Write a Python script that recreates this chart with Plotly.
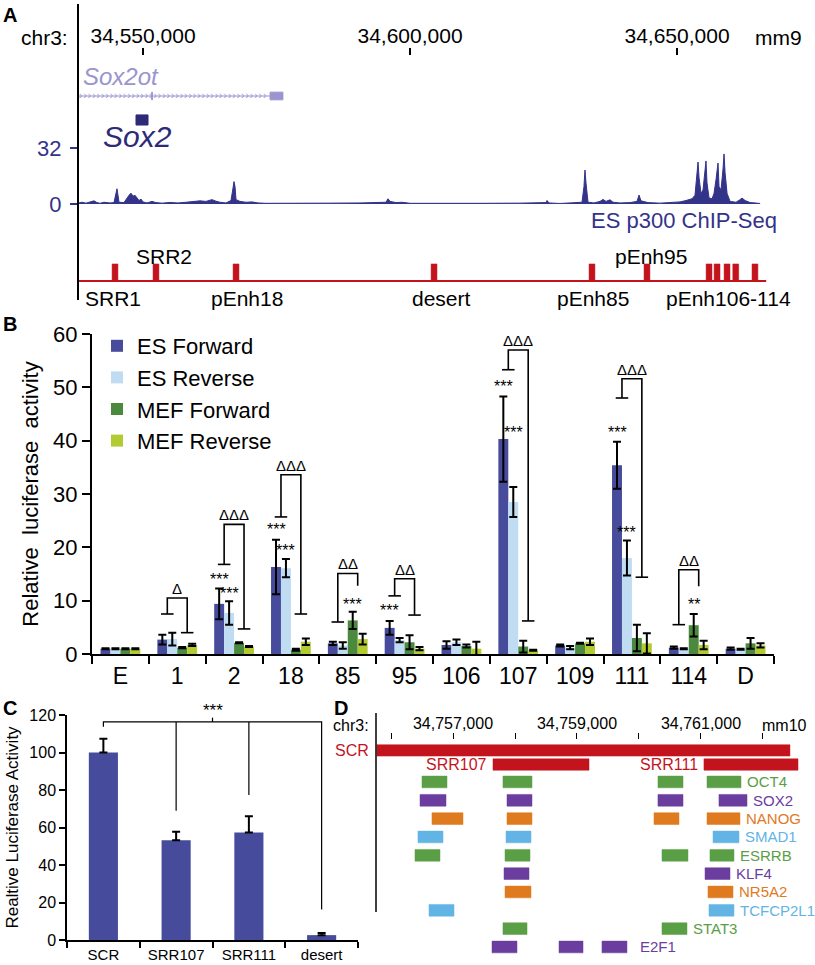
import plotly.graph_objects as go

W, H = 815, 965
FONT = "Liberation Sans, Arial, sans-serif"


def px_x(px):
    return px / W


def px_y(py):
    return 1 - py / H


# ======================= Panel A data =======================
A_TICK_POS = [34550000, 34600000, 34650000]
A_VIEW = [34537828, 34673034]
SOX2OT_LINE = [34537828, 34573800]
SOX2OT_EXONS = [[34551620, 34551760], [34573800, 34576200]]
SOX2_EXON = [34548690, 34550940]

SIGNAL_KB = [34537.83, 34538.58, 34539.33, 34540.07, 34540.82, 34541.38, 34541.95, 34542.70,
             34543.82, 34544.57, 34544.94, 34545.13, 34545.32, 34545.51, 34546.44, 34547.00,
             34547.38, 34547.75, 34548.13, 34548.50, 34548.88, 34549.25, 34549.63, 34550.00,
             34550.75, 34551.69, 34552.43, 34553.56, 34555.06, 34556.55, 34558.05, 34559.55,
             34560.67, 34561.80, 34562.92, 34563.67, 34564.42, 34565.54, 34566.48, 34566.85,
             34567.04, 34567.23, 34567.42, 34568.16, 34569.29, 34570.41, 34571.54, 34573.03,
             34579.40, 34585.02, 34590.64, 34594.38, 34595.51, 34595.88, 34596.26, 34597.38,
             34598.50, 34600.00, 34605.62, 34613.11, 34620.60, 34625.47, 34625.66, 34626.03,
             34628.09, 34630.90, 34632.21, 34632.58, 34632.77, 34632.96, 34633.34, 34634.46,
             34635.58, 34636.15, 34636.71, 34637.46, 34638.02, 34639.33, 34641.20, 34642.51,
             34642.89, 34643.26, 34644.57, 34646.82, 34649.07, 34650.57, 34651.69, 34652.81,
             34653.37, 34653.75, 34653.94, 34654.13, 34654.50, 34654.87, 34655.25, 34655.43,
             34655.62, 34656.00, 34656.56, 34656.93, 34657.31, 34657.68, 34657.87, 34658.24,
             34658.62, 34658.81, 34659.00, 34659.38, 34659.94, 34661.06, 34661.81, 34662.18,
             34662.75, 34663.68, 34664.62, 34665.56]
SIGNAL_VAL = [0.5, 1.0, 0.5, 1.2, 1.8, 0.8, 0.4, 1.0,
              0.6, 0.8, 6.0, 8.7, 5.0, 1.0, 0.8, 3.5,
              5.0, 6.2, 4.5, 5.0, 3.2, 2.0, 2.8, 1.2,
              0.6, 1.5, 0.8, 0.5, 0.9, 0.6, 1.0, 1.3,
              1.8, 1.5, 2.5, 1.6, 1.0, 0.6, 2.0, 9.0,
              12.8, 10.0, 2.5, 1.5, 1.0, 1.2, 0.6, 0.4,
              0.3, 0.5, 0.6, 0.9, 1.0, 3.0, 1.5, 0.8,
              1.0, 0.4, 0.3, 0.4, 0.5, 0.8, 2.0, 0.6,
              0.3, 0.5, 1.0, 10.0, 19.4, 12.0, 1.0, 0.6,
              1.5, 2.6, 1.5, 2.4, 1.0, 0.6, 0.8, 1.5,
              5.1, 1.8, 0.8, 0.5, 0.8, 1.2, 2.0, 3.0,
              5.0, 18.0, 24.0, 15.0, 6.0, 8.0, 20.0, 24.6,
              12.0, 3.5, 3.0, 6.0, 14.0, 23.4, 10.0, 8.0,
              20.0, 28.6, 18.0, 6.0, 1.5, 1.0, 2.5, 3.4,
              2.0, 0.8, 0.6, 0.3]

REGION_NAMES = ["SRR1", "SRR2", "pEnh18", "desert", "pEnh85", "pEnh95",
                "pEnh106", "pEnh107", "pEnh109", "pEnh111", "pEnh114"]
REGION_POS = [34544760, 34552430, 34567420, 34604500, 34634080, 34644380,
              34656000, 34657500, 34659370, 34661000, 34664600]
REGION_TRACK_END = 34666700
# label text, indices of regions it names, above/below, pixel nudge
REGION_LABELS = [("SRR1", [0], "below", -2), ("SRR2", [1], "above", 8),
                 ("pEnh18", [2], "below", 11), ("desert", [3], "below", 7),
                 ("pEnh85", [4], "below", 1), ("pEnh95", [5], "above", 4),
                 ("pEnh106-114", [6, 7, 8, 9, 10], "below", 0)]

# ======================= Panel B data =======================
CATS = ["E", "1", "2", "18", "85", "95", "106", "107", "109", "111", "114", "D"]
ES_F = [1.0, 2.7, 9.4, 16.3, 2.0, 4.9, 1.7, 40.3, 1.6, 35.4, 1.2, 1.0]
ES_F_ERR = [0.1, 0.9, 2.9, 5.1, 0.3, 1.3, 0.7, 8.0, 0.2, 4.4, 0.2, 0.2]
ES_R = [1.0, 2.8, 7.7, 16.1, 1.6, 2.6, 2.2, 28.5, 1.2, 18.0, 1.0, 0.9]
ES_R_ERR = [0.1, 1.2, 2.2, 1.7, 0.6, 0.4, 0.5, 2.8, 0.3, 3.3, 0.1, 0.1]
MEF_F = [1.0, 1.2, 2.1, 0.8, 6.3, 2.2, 1.5, 1.4, 2.0, 3.0, 5.4, 2.0]
MEF_F_ERR = [0.1, 0.1, 0.1, 0.2, 1.6, 1.3, 0.3, 1.1, 0.1, 2.5, 2.1, 1.0]
MEF_R = [1.0, 1.7, 1.4, 2.3, 2.8, 1.0, 1.0, 0.7, 2.3, 2.0, 1.7, 1.6]
MEF_R_ERR = [0.1, 0.2, 0.1, 0.6, 1.0, 0.3, 1.3, 0.1, 0.6, 1.9, 0.8, 0.4]
SERIES_NAMES = ["ES Forward", "ES Reverse", "MEF Forward", "MEF Reverse"]
SERIES_COLORS = ["#464b9c", "#bfdcf3", "#4b8a3e", "#b3cb33"]

# ES-vs-MEF comparison brackets: category, left foot, top, right foot, right tick, label
BRACKET_CAT = ["1", "2", "18", "85", "95", "107", "111", "114"]
BRACKET_LEFT = [7.5, 16.8, 25.7, 6.0, 10.9, 53.3, 48.0, 5.5]
BRACKET_TOP = [10.5, 24.3, 33.6, 15.1, 14.1, 57.0, 51.6, 15.8]
BRACKET_RIGHT = [4.0, 4.7, 7.5, 12.8, 7.3, 6.2, 14.4, 12.7]
BRACKET_RTICK = [True, True, True, False, True, True, True, False]
BRACKET_TEXT = ["Δ", "ΔΔΔ", "ΔΔΔ", "ΔΔ", "ΔΔ", "ΔΔΔ", "ΔΔΔ", "ΔΔ"]

STAR_CAT = ["2", "2", "18", "18", "85", "95", "107", "107", "111", "111", "114"]
STAR_SERIES = ["ES Forward", "ES Reverse", "ES Forward", "ES Reverse", "MEF Forward",
               "ES Forward", "ES Forward", "ES Reverse", "ES Forward", "ES Reverse", "MEF Forward"]
STAR_Y = [13.9, 11.3, 23.3, 19.5, 9.2, 8.1, 50.1, 41.5, 41.5, 22.7, 9.2]
STAR_TEXT = ["***", "***", "***", "***", "***", "***", "***", "***", "***", "***", "**"]

# ======================= Panel C data =======================
C_CATS = ["SCR", "SRR107", "SRR111", "desert"]
C_VALS = [100.0, 53.2, 57.4, 2.6]
C_ERR = [7.4, 4.6, 8.6, 1.1]
C_BRACKET_TOP = 116.3
C_BRACKET_FEET = [113.8, 69.0, 77.4, 16.3]
C_BRACKET_MID = 1.5
C_BRACKET_MID_TOP = 118.6

# ======================= Panel D data =======================
D_VIEW = [34755758, 34762839]
D_TICKS = [34756000, 34757000, 34758000, 34759000, 34760000, 34761000, 34762000]
D_TICK_TEXT = ["", "34,757,000", "", "34,759,000", "", "34,761,000", ""]
SCR_SPAN = [34755774, 34762435]
SRR_NAMES = ["SRR107", "SRR111"]
SRR_SPANS = [[34757645, 34759194], [34761048, 34762565]]
TF_NAMES = ["OCT4", "SOX2", "NANOG", "SMAD1", "ESRRB", "KLF4", "NR5A2", "TCFCP2L1", "STAT3", "E2F1"]
TF_COLORS = ["#5a9e46", "#6a3d9e", "#e07a1f", "#62b4e4", "#5a9e46", "#6a3d9e",
             "#e07a1f", "#62b4e4", "#5a9e46", "#6a3d9e"]
TF_SITES = [
    [[34756500, 34756903], [34757806, 34758274], [34760306, 34760710], [34761097, 34761645]],
    [[34756468, 34756887], [34757871, 34758274], [34760306, 34760710], [34761290, 34761742]],
    [[34756661, 34757161], [34757871, 34758274], [34760242, 34760645], [34761097, 34761629]],
    [[34756435, 34756839], [34757855, 34758258], [34761194, 34761613]],
    [[34756387, 34756790], [34757839, 34758242], [34760371, 34760790], [34761145, 34761532]],
    [[34757823, 34758226], [34761065, 34761468]],
    [[34757839, 34758258], [34761113, 34761516]],
    [[34756613, 34757016], [34761129, 34761532]],
    [[34757806, 34758194], [34760371, 34760774]],
    [[34757629, 34758032], [34758710, 34759097], [34759403, 34759806]],
]

RED = "#c3141e"
NAVY = "#33338a"

fig = go.Figure()


def rects(spans, y0, y1):
    xs, ys = [], []
    for s, e in spans:
        xs += [s, e, e, s, s, None]
        ys += [y0, y0, y1, y1, y0, None]
    return xs, ys


# ---------------- Panel A ----------------
fig.add_trace(go.Scatter(x=SOX2OT_LINE, y=[0, 0], mode="lines",
                         line=dict(color="#9a94cf", width=1), showlegend=False,
                         xaxis="x", yaxis="y", hoverinfo="skip"))
chev = list(range(SOX2OT_LINE[0] + 500, SOX2OT_LINE[1] - 300, 820))  # strand arrows (decoration)
fig.add_trace(go.Scatter(x=chev, y=[0] * len(chev), mode="text", text=["›"] * len(chev),
                         textfont=dict(color="#9a94cf", size=10, family=FONT),
                         showlegend=False, xaxis="x", yaxis="y", hoverinfo="skip"))
ex, ey = rects(SOX2OT_EXONS, -0.16, 0.16)
fig.add_trace(go.Scatter(x=ex, y=ey, fill="toself", mode="lines", fillcolor="#9a94cf",
                         line=dict(color="#9a94cf", width=1), showlegend=False,
                         xaxis="x", yaxis="y", hoverinfo="skip"))
sx, sy = rects([SOX2_EXON], 0.79, 1.21)
fig.add_trace(go.Scatter(x=sx, y=sy, fill="toself", mode="lines", fillcolor="#2e2a78",
                         line=dict(color="#2e2a78", width=1), showlegend=False,
                         xaxis="x", yaxis="y", hoverinfo="skip"))

fig.add_trace(go.Scatter(x=[k * 1000 for k in SIGNAL_KB], y=SIGNAL_VAL, mode="lines",
                         fill="tozeroy", fillcolor=NAVY, line=dict(color=NAVY, width=1),
                         showlegend=False, xaxis="x2", yaxis="y2", hoverinfo="skip"))

fig.add_trace(go.Scatter(x=[A_VIEW[0], REGION_TRACK_END], y=[0, 0], mode="lines",
                         line=dict(color=RED, width=2), showlegend=False,
                         xaxis="x3", yaxis="y3", hoverinfo="skip"))
REGION_W = 1100
rx, ry = rects([[p - REGION_W / 2, p + REGION_W / 2] for p in REGION_POS], 0, 0.9)
fig.add_trace(go.Scatter(x=rx, y=ry, fill="toself", mode="lines", fillcolor=RED,
                         line=dict(color=RED, width=0.5), showlegend=False,
                         xaxis="x3", yaxis="y3", hoverinfo="skip"))

# ---------------- Panel B ----------------
B_VALUES = [ES_F, ES_R, MEF_F, MEF_R]
B_ERRS = [ES_F_ERR, ES_R_ERR, MEF_F_ERR, MEF_R_ERR]
idx = list(range(len(CATS)))
for name, vals, errs, col in zip(SERIES_NAMES, B_VALUES, B_ERRS, SERIES_COLORS):
    fig.add_trace(go.Bar(x=idx, y=vals, name=name, marker=dict(color=col, line=dict(width=0)),
                         error_y=dict(type="data", array=errs, color="black", thickness=2, width=4),
                         xaxis="x4", yaxis="y4", legendgroup=name))

BAR_SLOT = 0.175
SERIES_OFFSET = {n: (i - 1.5) * BAR_SLOT for i, n in enumerate(SERIES_NAMES)}
TICK_HW = 0.11
for cat, lft, top, rgt, rt in zip(BRACKET_CAT, BRACKET_LEFT, BRACKET_TOP, BRACKET_RIGHT, BRACKET_RTICK):
    i = CATS.index(cat)
    xl, xr = i - BAR_SLOT, i + BAR_SLOT
    xs = [xl - TICK_HW, xl + TICK_HW, None, xl, xl, xr, xr]
    ys = [lft, lft, None, lft, top, top, rgt]
    if rt:
        xs += [None, xr - TICK_HW, xr + TICK_HW]
        ys += [None, rgt, rgt]
    fig.add_trace(go.Scatter(x=xs, y=ys, mode="lines", line=dict(color="black", width=1.6),
                             showlegend=False, xaxis="x4", yaxis="y4", hoverinfo="skip"))

annotations = []
for cat, top, txt in zip(BRACKET_CAT, BRACKET_TOP, BRACKET_TEXT):
    annotations.append(dict(x=CATS.index(cat), y=top, xref="x4", yref="y4", text=txt,
                            showarrow=False, xanchor="center", yanchor="bottom", yshift=-1,
                            font=dict(size=15, color="black", family=FONT)))
for cat, ser, yv, txt in zip(STAR_CAT, STAR_SERIES, STAR_Y, STAR_TEXT):
    annotations.append(dict(x=CATS.index(cat) + SERIES_OFFSET[ser], y=yv, xref="x4", yref="y4",
                            text=txt, showarrow=False, xanchor="center", yanchor="middle",
                            font=dict(size=16, color="black", family=FONT)))

# ---------------- Panel C ----------------
cidx = list(range(len(C_CATS)))
fig.add_trace(go.Bar(x=cidx, y=C_VALS, width=0.4, marker=dict(color="#464b9c", line=dict(width=0)),
                     error_y=dict(type="data", array=C_ERR, arrayminus=[0] * len(C_ERR),
                                  symmetric=False, color="black", thickness=2, width=4),
                     showlegend=False, xaxis="x5", yaxis="y5", name="Luciferase"))
cx = [0, 0, cidx[-1], cidx[-1]]
cy = [C_BRACKET_FEET[0], C_BRACKET_TOP, C_BRACKET_TOP, C_BRACKET_FEET[-1]]
for k in cidx[1:-1]:
    cx += [None, k, k]
    cy += [None, C_BRACKET_FEET[k], C_BRACKET_TOP]
cx += [None, C_BRACKET_MID, C_BRACKET_MID]
cy += [None, C_BRACKET_TOP, C_BRACKET_MID_TOP]
fig.add_trace(go.Scatter(x=cx, y=cy, mode="lines", line=dict(color="black", width=1.2),
                         showlegend=False, xaxis="x5", yaxis="y5", hoverinfo="skip"))
annotations.append(dict(x=C_BRACKET_MID, y=C_BRACKET_MID_TOP, xref="x5", yref="y5", text="***",
                        showarrow=False, xanchor="center", yanchor="bottom", yshift=-4,
                        font=dict(size=17, color="black", family=FONT)))

# ---------------- Panel D ----------------
ROW_SCR, ROW_SRR = -1.72, -0.95
HALF = 0.31
qx, qy = rects([SCR_SPAN], ROW_SCR - HALF, ROW_SCR + HALF)
fig.add_trace(go.Scatter(x=qx, y=qy, fill="toself", mode="lines", fillcolor=RED,
                         line=dict(color=RED, width=0.5), showlegend=False,
                         xaxis="x6", yaxis="y6", hoverinfo="skip"))
qx, qy = rects(SRR_SPANS, ROW_SRR - HALF, ROW_SRR + HALF)
fig.add_trace(go.Scatter(x=qx, y=qy, fill="toself", mode="lines", fillcolor=RED,
                         line=dict(color=RED, width=0.5), showlegend=False,
                         xaxis="x6", yaxis="y6", hoverinfo="skip"))
for nm, span in zip(SRR_NAMES, SRR_SPANS):
    annotations.append(dict(x=span[0], y=ROW_SRR, xref="x6", yref="y6", text=nm, showarrow=False,
                            xanchor="right", yanchor="middle", xshift=-4,
                            font=dict(size=16, color=RED, family=FONT)))

for r, (nm, col, sites) in enumerate(zip(TF_NAMES, TF_COLORS, TF_SITES)):
    tx, ty = rects(sites, r - 0.32, r + 0.32)
    fig.add_trace(go.Scatter(x=tx, y=ty, fill="toself", mode="lines", fillcolor=col,
                             line=dict(color=col, width=0.5), showlegend=False,
                             xaxis="x6", yaxis="y6", name=nm, hoverinfo="skip"))
    last = max(e for s, e in sites)
    annotations.append(dict(x=last, y=r, xref="x6", yref="y6", text=nm, showarrow=False,
                            xanchor="left", yanchor="middle", xshift=11 if nm == "E2F1" else 4,
                            font=dict(size=15, color=col, family=FONT)))

# ---------------- text annotations ----------------
annotations += [
    dict(x=px_x(70), y=px_y(37), xref="paper", yref="paper", text="chr3:", showarrow=False,
         xanchor="right", yanchor="middle", font=dict(size=21, color="black", family=FONT)),
    dict(x=px_x(753), y=px_y(37), xref="paper", yref="paper", text="mm9", showarrow=False,
         xanchor="left", yanchor="middle", font=dict(size=21, color="black", family=FONT)),
    dict(x=A_VIEW[0], y=0, xref="x", yref="y", text="<i>Sox2ot</i>", showarrow=False,
         xanchor="left", yanchor="middle", xshift=3, yshift=19,
         font=dict(size=24, color="#9a94cf", family=FONT)),
    dict(x=sum(SOX2_EXON) / 2, y=1, xref="x", yref="y", text="<i>Sox2</i>", showarrow=False,
         xanchor="center", yanchor="middle", xshift=-5, yshift=-17,
         font=dict(size=30, color="#2e2a78", family=FONT)),
    dict(x=px_x(779), y=px_y(221), xref="paper", yref="paper", text="ES p300 ChIP-Seq",
         showarrow=False, xanchor="right", yanchor="middle",
         font=dict(size=22, color=NAVY, family=FONT)),
]
for txt, ids, side, nudge in REGION_LABELS:
    xm = sum(REGION_POS[i] for i in ids) / len(ids)
    annotations.append(dict(x=xm, y=px_y(256 if side == "above" else 298), xref="x3", yref="paper",
                            text=txt, showarrow=False, xanchor="center", yanchor="middle", xshift=nudge,
                            font=dict(size=21, color="black", family=FONT)))

annotations += [
    dict(x=px_x(371), y=px_y(725), xref="paper", yref="paper", text="chr3:", showarrow=False,
         xanchor="right", yanchor="middle", font=dict(size=16, color="black", family=FONT)),
    dict(x=px_x(371), y=px_y(750), xref="paper", yref="paper", text="SCR", showarrow=False,
         xanchor="right", yanchor="middle", font=dict(size=16, color=RED, family=FONT)),
    dict(x=px_x(760), y=px_y(725), xref="paper", yref="paper", text="mm10", showarrow=False,
         xanchor="left", yanchor="middle", font=dict(size=16, color="black", family=FONT)),
]
for letter, lx, ly in [("A", 1, 15), ("B", 1, 324), ("C", 1, 708), ("D", 332, 708)]:
    annotations.append(dict(x=px_x(lx), y=px_y(ly), xref="paper", yref="paper", text=f"<b>{letter}</b>",
                            showarrow=False, xanchor="left", yanchor="middle",
                            font=dict(size=20, color="black", family=FONT)))

shapes = [
    dict(type="line", xref="paper", yref="paper", x0=px_x(78), x1=px_x(78), y0=px_y(4), y1=px_y(300),
         line=dict(color="black", width=2)),
    dict(type="line", xref="paper", yref="paper", x0=px_x(376), x1=px_x(376), y0=px_y(713), y1=px_y(912),
         line=dict(color="black", width=1.5)),
]

noax = dict(visible=False, showgrid=False, zeroline=False, automargin=False)
A_DOM = [px_x(78), px_x(800)]

fig.update_layout(
    template="none",
    width=W, height=H, autosize=False, margin=dict(l=0, r=0, t=0, b=0, pad=0),
    paper_bgcolor="white", plot_bgcolor="white",
    font=dict(family=FONT, color="black"),
    barmode="group", bargap=0.3, bargroupgap=0,
    showlegend=True,
    legend=dict(x=px_x(97), y=px_y(325), xanchor="left", yanchor="top",
                font=dict(size=22, family=FONT), bgcolor="rgba(0,0,0,0)", borderwidth=0,
                tracegroupgap=0, itemwidth=30),
    annotations=annotations, shapes=shapes,
    xaxis=dict(domain=A_DOM, range=A_VIEW, anchor="y", side="top", tickvals=A_TICK_POS,
               tickformat=",d", ticks="inside", ticklen=7, tickwidth=1.5, tickcolor="black",
               showline=False, showgrid=False, zeroline=False, tickfont=dict(size=21),
               automargin=False),
    yaxis=dict(domain=[px_y(130), px_y(48)], range=[1.417, -2.0], anchor="x", **noax),
    xaxis2=dict(domain=A_DOM, range=A_VIEW, anchor="y2", **noax),
    yaxis2=dict(domain=[px_y(204), px_y(148)], range=[0, 32], anchor="x2", tickvals=[0, 32],
                ticks="outside", ticklen=7, tickwidth=1.5, tickcolor=NAVY, ticklabelstandoff=4,
                tickfont=dict(size=22, color=NAVY), showline=False, showgrid=False, zeroline=False,
                automargin=False),
    xaxis3=dict(domain=A_DOM, range=A_VIEW, anchor="y3", **noax),
    yaxis3=dict(domain=[px_y(283), px_y(262)], range=[-0.1, 1.0], anchor="x3", **noax),
    xaxis4=dict(domain=[px_x(92), px_x(774)], range=[-0.5, len(CATS) - 0.5], anchor="y4",
                tickvals=idx, ticktext=CATS, ticks="", showline=True, linewidth=2, linecolor="black",
                showgrid=False, zeroline=False, tickfont=dict(size=23), automargin=False,
                minor=dict(tickmode="array", tickvals=[i - 0.5 for i in range(len(CATS) + 1)],
                           ticks="outside", ticklen=8, tickwidth=2, tickcolor="black", showgrid=False)),
    yaxis4=dict(domain=[px_y(654), px_y(334)], range=[0, 60], anchor="x4", dtick=10,
                ticks="outside", ticklen=8, tickwidth=2, tickcolor="black", showline=True,
                linewidth=2, linecolor="black", showgrid=False, zeroline=False,
                tickfont=dict(size=22), automargin=False,
                title=dict(text="Relative  luciferase  activity", font=dict(size=22), standoff=8)),
    xaxis5=dict(domain=[px_x(67), px_x(358)], range=[-0.5, len(C_CATS) - 0.5], anchor="y5",
                tickvals=cidx, ticktext=C_CATS, ticks="", showline=True, linewidth=1.5,
                linecolor="black", showgrid=False, zeroline=False, tickfont=dict(size=15),
                automargin=False,
                minor=dict(tickmode="array", tickvals=[i - 0.5 for i in range(len(C_CATS) + 1)],
                           ticks="outside", ticklen=6, tickwidth=1.5, tickcolor="black", showgrid=False)),
    yaxis5=dict(domain=[px_y(940), px_y(715)], range=[0, 120], anchor="x5", dtick=20,
                ticks="outside", ticklen=6, tickwidth=1.5, tickcolor="black", showline=True,
                linewidth=1.5, linecolor="black", showgrid=False, zeroline=False,
                tickfont=dict(size=16), automargin=False,
                title=dict(text="Realtive Luciferase Activity", font=dict(size=17), standoff=6)),
    xaxis6=dict(domain=[px_x(376), px_x(815)], range=D_VIEW, anchor="y6", side="top",
                tickvals=D_TICKS, ticktext=D_TICK_TEXT, ticks="inside", ticklen=6, tickwidth=1.2,
                tickcolor="black", showline=False, showgrid=False, zeroline=False,
                tickfont=dict(size=16), automargin=False),
    yaxis6=dict(domain=[px_y(960), px_y(733)], range=[9.71, -2.67], anchor="x6", **noax),
)

fig.write_html("out.html", config={"displayModeBar": False},
               post_script="document.body.style.margin='0';")
